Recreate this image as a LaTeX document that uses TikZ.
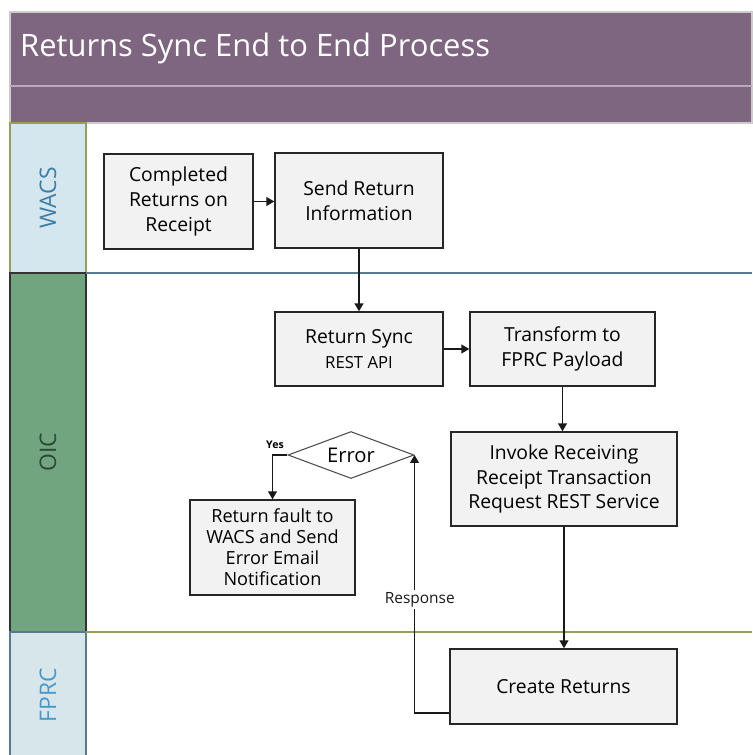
\documentclass[tikz,border=0pt]{standalone}
\usepackage{fontspec}
\setmainfont{Open Sans}
\usetikzlibrary{shapes.geometric, arrows.meta, positioning, calc}
\definecolor{headpurple}{RGB}{126, 102, 128}
\definecolor{headline}{RGB}{185, 170, 186}
\definecolor{wacsblue}{RGB}{212, 230, 238}
\definecolor{wacstext}{RGB}{62, 126, 166}
\definecolor{oicgreen}{RGB}{112, 165, 128}
\definecolor{oictext}{RGB}{45, 72, 55}
\definecolor{fprcblue}{RGB}{214, 230, 234}
\definecolor{fprctext}{RGB}{74, 152, 201}
\definecolor{laneolive}{RGB}{150, 160, 90}
\definecolor{laneslate}{RGB}{90, 122, 142}
\definecolor{boxgray}{RGB}{242, 242, 242}

\begin{document}
\begin{tikzpicture}[x=0.02cm, y=-0.02cm,
    procbox/.style={draw=black!85, line width=0.8pt, fill=boxgray, align=center, inner sep=2pt, font=\fontsize{11}{14}\selectfont},
    decision/.style={diamond, draw=black!70, line width=0.6pt, fill=white, aspect=2.7, inner sep=0pt, minimum width=2.52cm, minimum height=0.94cm, font=\fontsize{11.5}{14}\selectfont},
    flow/.style={line width=0.9pt, black!90, -{Triangle[length=4.5pt, width=5pt]}},
    lanelabel/.style={rotate=90, font=\fontsize{13}{15}\selectfont}]
    \useasboundingbox (0,0) rectangle (752,755);

    % Header bar
    \filldraw[fill=headpurple, draw=black!20, line width=0.6pt] (10,12) rectangle (752,123);
    \draw[headline, line width=0.8pt] (10,86) -- (752,86);
    \node[font=\fontsize{17.6}{21}\selectfont, text=white, anchor=west] (title) at (14,48) {Returns Sync End to End Process};

    % Swim lanes
    \filldraw[fill=wacsblue, draw=laneolive, line width=0.6pt] (10,123) rectangle (86,273);
    \filldraw[fill=oicgreen, draw=black!80, line width=0.6pt] (10,273) rectangle (86,632);
    \filldraw[fill=fprcblue, draw=laneslate, line width=0.6pt] (10,632) rectangle (86,760);
    \draw[laneslate, line width=1.5pt] (86,273) -- (752,273);
    \draw[laneolive, line width=0.6pt] (86,632) -- (752,632);

    \node[lanelabel, text=wacstext] (wacs) at (48,198) {WACS};
    \node[lanelabel, text=oictext] (oic) at (48,452) {OIC};
    \node[lanelabel, text=fprctext] (fprc) at (48,695) {FPRC};

    % Process steps
    \node[procbox, minimum width=2.98cm, minimum height=1.9cm] (completed) at (178.5,201.5) {Completed\\Returns on\\Receipt};
    \node[procbox, minimum width=3.36cm, minimum height=1.9cm] (sendinfo) at (359,200.5) {Send Return\\Information};
    \node[procbox, minimum width=3.36cm, minimum height=1.48cm] (syncapi) at (359,349) {Return Sync\\{\fontsize{9.5}{12}\selectfont REST API}};
    \node[procbox, minimum width=3.7cm, minimum height=1.48cm] (transform) at (562.5,349) {Transform to\\FPRC Payload};
    \node[procbox, minimum width=4.52cm, minimum height=1.88cm] (invoke) at (564,479) {Invoke Receiving\\Receipt Transaction\\Request REST Service};
    \node[decision] (error) at (351,455) {Error};
    \node[procbox, minimum width=3.3cm, minimum height=1.9cm, font=\fontsize{10.3}{12}\selectfont] (fault) at (272.5,547.5) {Return fault to\\WACS and Send\\Error Email\\Notification};
    \node[procbox, minimum width=4.54cm, minimum height=1.5cm] (create) at (563.5,686.5) {Create Returns};

    % Connectors
    \draw[flow] (completed.east) -- (completed.east -| sendinfo.west);
    \draw[flow] (sendinfo) -- (syncapi);
    \draw[flow] (syncapi) -- (transform);
    \draw[flow] (transform.south) -- (transform.south |- invoke.north);
    \draw[flow] (invoke.south) -- (invoke.south |- create.north);
    \coordinate (respcorner) at (414,713);
    \draw[flow] (create.west |- respcorner) -| (error.east)
        node[pos=0.72, fill=white, inner sep=1pt, xshift=3pt, font=\fontsize{8.8}{10}\selectfont] (resplabel) {Response};
    \draw[flow] (error.west) -| (fault.north);
    \node[font=\fontsize{6}{7}\selectfont\bfseries] (yeslabel) at (275,445) {Yes};
\end{tikzpicture}
\end{document}
